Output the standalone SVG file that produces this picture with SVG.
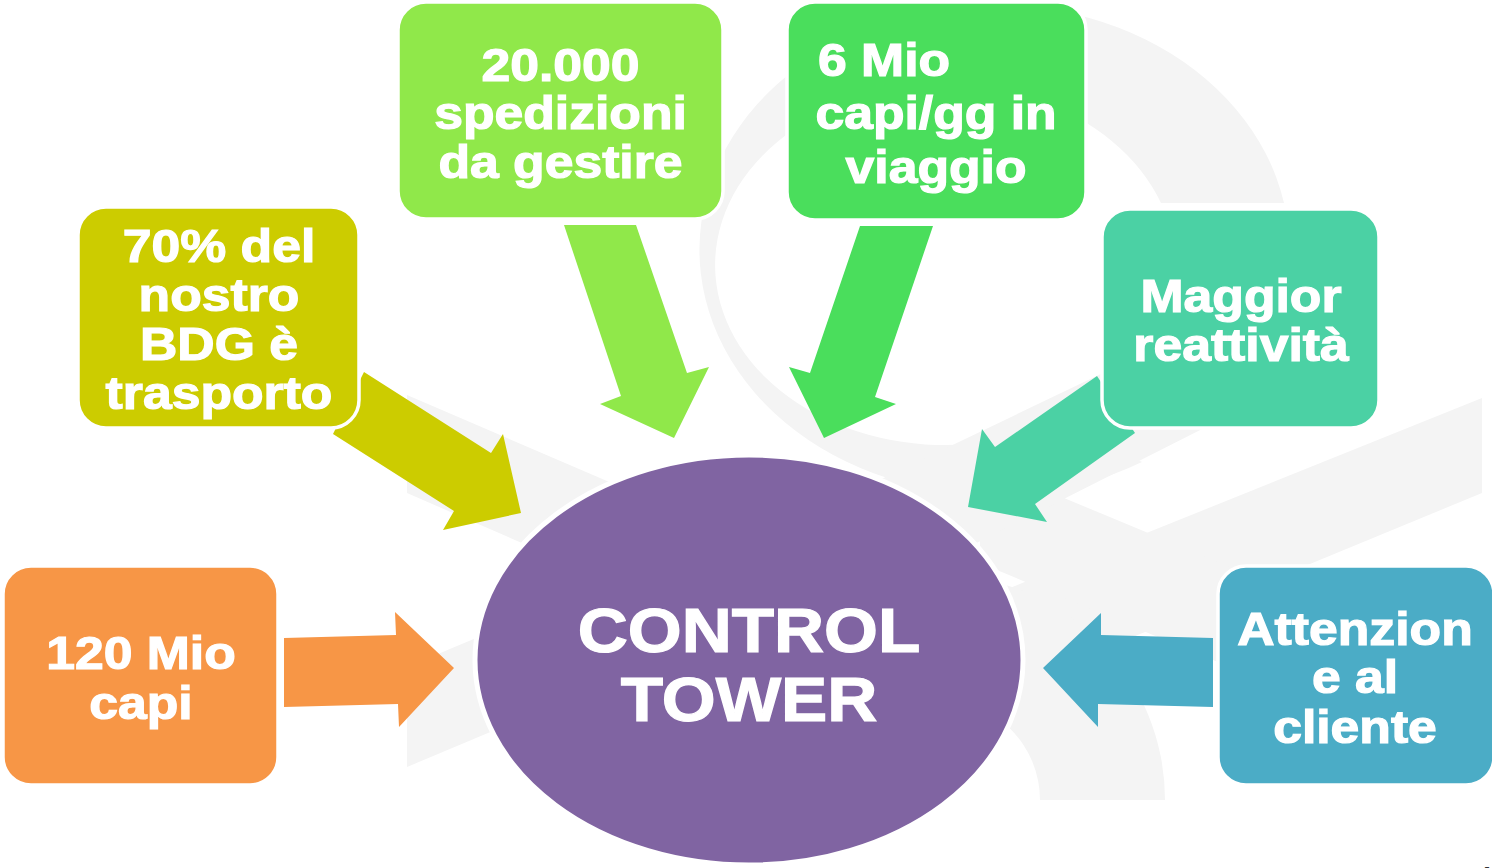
<svg xmlns="http://www.w3.org/2000/svg" width="1492" height="868" viewBox="0 0 1492 868">
<style>
.wm{fill:#f4f4f4}
.box{stroke:#ffffff;stroke-width:3.5}
.t{font-family:"Liberation Sans",Arial,sans-serif;font-weight:bold;font-size:47px;fill:#ffffff;stroke:#ffffff;stroke-width:1.2}
.tc{text-anchor:middle}
.big{font-size:63px}
</style>
<rect width="1492" height="868" fill="#ffffff"/>
<g id="watermark">
<path class="wm" d="M1284,203 A295,245 0 1 0 1142,462 L1060,421 A230,180 0 1 1 1161,203 Z"/>
<polygon class="wm" points="407,395 749,542 749,642 407,493"/>
<polygon class="wm" points="407,667 749,523 749,623 407,767"/>
<polygon class="wm" points="1482,398 980,600 980,700 1482,493"/>
<polygon class="wm" points="980,463 1482,672 1482,772 980,563"/>
<polygon class="wm" points="850,494 1220,317 1220,420 850,607"/>
<path class="wm" d="M715,800 A225,225 0 0 1 1165,800 L1040,800 A100,100 0 0 0 840,800 Z"/>
</g>
<g id="connectors">
<polygon fill="#F79646" points="284,638 396,635 395,612 454,668 399,727 398,704 284,707"/>
<polygon fill="#CCCC00" points="364,372 491,453 503,434 521,513 443,530 454,511 333,434"/>
<polygon fill="#90E84A" points="564,225 636,225 687,373 709,367 674,438 600,404 621,396"/>
<polygon fill="#4ADE5C" points="860,226 933,226 875,397 896,404 824,438 789,367 810,373"/>
<polygon fill="#4BD1A4" points="1097,376 995,447 982,429 968,507 1047,522 1035,504 1135,433"/>
<polygon fill="#4BACC6" points="1213,638 1101,635 1101,613 1043,668 1098,727 1098,704 1213,707"/>
</g>
<g id="node-capi">
<rect class="box" x="3" y="566" width="275" height="219" rx="28" fill="#F79646"/>
<text class="t tc" transform="translate(141 0) scale(1.1 1)" x="0" y="669">120 Mio</text>
<text class="t tc" transform="translate(141 0) scale(1.1 1)" x="0" y="719">capi</text>
</g>
<g id="node-bdg">
<rect class="box" x="78" y="207" width="281" height="221" rx="28" fill="#CCCC00"/>
<text class="t tc" transform="translate(219 0) scale(1.1 1)" x="0" y="262">70% del</text>
<text class="t tc" transform="translate(219 0) scale(1.1 1)" x="0" y="311">nostro</text>
<text class="t tc" transform="translate(219 0) scale(1.1 1)" x="0" y="360">BDG è</text>
<text class="t tc" transform="translate(219 0) scale(1.1 1)" x="0" y="409">trasporto</text>
</g>
<g id="node-spedizioni">
<rect class="box" x="398" y="2" width="325" height="217" rx="28" fill="#90E84A"/>
<text class="t tc" transform="translate(560.5 0) scale(1.1 1)" x="0" y="81">20.000</text>
<text class="t tc" transform="translate(560.5 0) scale(1.1 1)" x="0" y="129">spedizioni</text>
<text class="t tc" transform="translate(560.5 0) scale(1.1 1)" x="0" y="178">da gestire</text>
</g>
<g id="node-viaggio">
<rect class="box" x="787" y="2" width="299" height="218" rx="28" fill="#4ADE5C"/>
<text class="t" transform="translate(818 0) scale(1.1 1)" x="0" y="76">6 Mio</text>
<text class="t tc" transform="translate(936 0) scale(1.1 1)" x="0" y="129">capi/gg in</text>
<text class="t tc" transform="translate(936 0) scale(1.1 1)" x="0" y="183">viaggio</text>
</g>
<g id="node-reattivita">
<rect class="box" x="1102" y="209" width="277" height="219" rx="28" fill="#4BD1A4"/>
<text class="t tc" transform="translate(1241 0) scale(1.1 1)" x="0" y="312">Maggior</text>
<text class="t tc" transform="translate(1241 0) scale(1.1 1)" x="0" y="361">reattività</text>
</g>
<g id="node-cliente">
<rect class="box" x="1218" y="566" width="276" height="219" rx="28" fill="#4BACC6"/>
<text class="t tc" transform="translate(1355 0) scale(1.1 1)" x="0" y="645">Attenzion</text>
<text class="t tc" transform="translate(1355 0) scale(1.1 1)" x="0" y="693">e al</text>
<text class="t tc" transform="translate(1355 0) scale(1.1 1)" x="0" y="743">cliente</text>
</g>
<g id="node-control-tower">
<ellipse cx="749" cy="660" rx="274" ry="205" fill="#8064A2" stroke="#ffffff" stroke-width="5"/>
<text class="t tc big" transform="translate(749 0) scale(1.1 1)" x="0" y="652">CONTROL</text>
<text class="t tc big" transform="translate(749 0) scale(1.1 1)" x="0" y="721">TOWER</text>
</g>
<text x="1478" y="884" font-family="Liberation Sans, Arial, sans-serif" font-weight="bold" font-size="24" fill="#333333">4</text>
</svg>
